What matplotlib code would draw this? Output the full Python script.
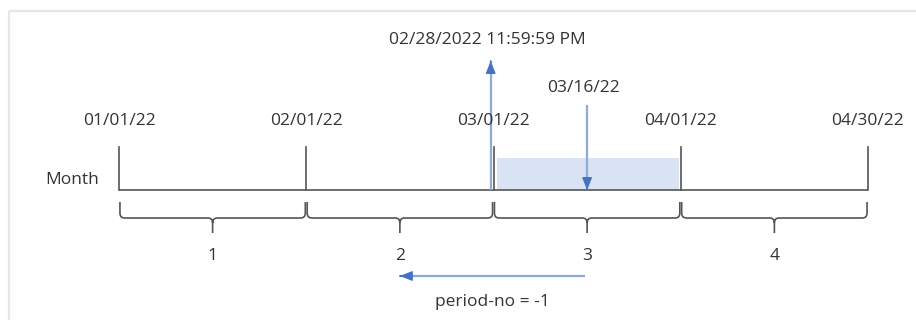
import matplotlib.pyplot as plt
from matplotlib.path import Path
from matplotlib.patches import PathPatch, Rectangle

plt.rcParams['font.family'] = ['Open Sans', 'DejaVu Sans']

# month boundaries on the timeline (index 0..4) and their labels
boundary_labels = ['01/01/22', '02/01/22', '03/01/22', '04/01/22', '04/30/22']
period_labels = ['1', '2', '3', '4']
row_label = 'Month'

# timestamp and its result, as month-index positions
input_label = '03/16/22'
input_pos = 2 + 15 / 31
result_label = '02/28/2022 11:59:59 PM'
result_pos = 1 + (27 + 86399 / 86400) / 28
period_no = -1
highlight_period = 3

TEXT = '#333333'
LINE = '#555555'
BLUE = '#4472c4'
BLUE_LINE = '#8eaadb'
SHADE = '#dae3f3'
FS = 12.5

fig = plt.figure(figsize=(9.16, 3.2), dpi=100)
ax = fig.add_axes([0, 0, 1, 1])
px = 187.25
ax.set_xlim(-119 / px, (916 - 119) / px)
ax.set_ylim(320, 0)
ax.axis('off')

# frame
ax.add_patch(Rectangle((-110 / px, 11), 20, 400, fill=False, ec='#e6e6e6', lw=1.6))

base_y, tick_top = 190, 147
n = len(boundary_labels)
ax.plot([0, n - 1], [base_y, base_y], color=LINE, lw=1.2, solid_capstyle='butt')
for i, lab in enumerate(boundary_labels):
    ax.plot([i, i], [tick_top, base_y], color=LINE, lw=1.2)
    ax.text(i, 121, lab, ha='center', va='center', fontsize=FS, color=TEXT)
ax.text(-0.25, 180, row_label, ha='center', va='center', fontsize=FS, color=TEXT)

# highlighted period
hp = highlight_period - 1
ax.add_patch(Rectangle((hp + 0.02, 158), 0.97, base_y - 158, color=SHADE, lw=0, zorder=0))

# braces
r = 0.025
for k, lab in enumerate(period_labels):
    a, b = k + 0.005, k + 1 - 0.005
    m = (a + b) / 2
    verts = [(a, 202), (a, 213), (a, 218), (a + r, 218), (m - r, 218), (m, 218), (m, 223), (m, 233),
             (b, 202), (b, 213), (b, 218), (b - r, 218), (m + r, 218), (m, 218), (m, 223)]
    codes = [Path.MOVETO, Path.LINETO, Path.CURVE3, Path.CURVE3, Path.LINETO, Path.CURVE3, Path.CURVE3, Path.LINETO,
             Path.MOVETO, Path.LINETO, Path.CURVE3, Path.CURVE3, Path.LINETO, Path.CURVE3, Path.CURVE3]
    ax.add_patch(PathPatch(Path(verts, codes), fill=False, ec=LINE, lw=1.2))
    ax.text(k + 0.5, 256, lab, ha='center', va='center', fontsize=FS, color=TEXT)


def blue_arrow(x0, y0, x1, y1):
    ax.plot([x0, x1], [y0, y1], color=BLUE_LINE, lw=1.6, solid_capstyle='butt')
    hx = x1 - (x1 - x0) * 0.001
    hy = y1 - (y1 - y0) * 0.001
    ax.annotate('', xy=(x1, y1), xytext=(hx, hy),
                arrowprops=dict(arrowstyle='-|>,head_length=0.75,head_width=0.3',
                                color=BLUE, lw=1, shrinkA=0, shrinkB=0))


# result arrow (up)
rx = result_pos - 0.015
blue_arrow(rx, base_y, rx, 61)
ax.text(rx - 0.02, 40, result_label, ha='center', va='center', fontsize=FS, color=TEXT)

# input arrow (down)
ix = hp + 0.5
blue_arrow(ix, 105, ix, base_y)
ax.text(ix - 0.02, 88, input_label, ha='center', va='center', fontsize=FS, color=TEXT)

# period shift arrow
start = hp + 0.49
end = hp + 0.5 + period_no
blue_arrow(start, 276, end, 276)
ax.text((start + end) / 2, 302, f'period-no = {period_no}', ha='center', va='center',
        fontsize=FS, color=TEXT)

fig.savefig('out.png', dpi=100, facecolor='white')
